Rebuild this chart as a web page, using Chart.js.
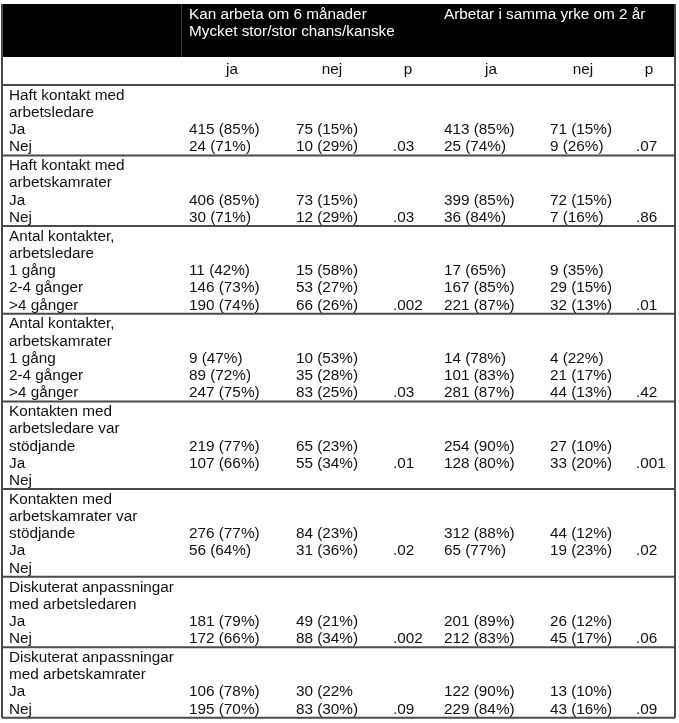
<!DOCTYPE html>
<html>
<head>
<meta charset="utf-8">
<script src="https://cdn.jsdelivr.net/npm/chart.js@4.4.1/dist/chart.umd.min.js"></script>
<style>
  html, body { margin: 0; padding: 0; background: #fff; }
  #wrap { width: 679px; height: 723px; }
</style>
</head>
<body>
<div id="wrap"><canvas id="tbl" width="679" height="723"></canvas></div>
<script>
// table content
const headerGroups = [
  ['Kan arbeta om 6 månader', 'Mycket stor/stor chans/kanske'],
  ['Arbetar i samma yrke om 2 år']
];
const subHeaders = ['ja', 'nej', 'p', 'ja', 'nej', 'p'];

const rowLabels = [
  ['Haft kontakt med', 'arbetsledare', 'Ja', 'Nej'],
  ['Haft kontakt med', 'arbetskamrater', 'Ja', 'Nej'],
  ['Antal kontakter,', 'arbetsledare', '1 gång', '2-4 gånger', '>4 gånger'],
  ['Antal kontakter,', 'arbetskamrater', '1 gång', '2-4 gånger', '>4 gånger'],
  ['Kontakten med', 'arbetsledare var', 'stödjande', 'Ja', 'Nej'],
  ['Kontakten med', 'arbetskamrater var', 'stödjande', 'Ja', 'Nej'],
  ['Diskuterat anpassningar', 'med arbetsledaren', 'Ja', 'Nej'],
  ['Diskuterat anpassningar', 'med arbetskamrater', 'Ja', 'Nej']
];

const kanJa = [
  ['415 (85%)', '24 (71%)'],
  ['406 (85%)', '30 (71%)'],
  ['11 (42%)', '146 (73%)', '190 (74%)'],
  ['9 (47%)', '89 (72%)', '247 (75%)'],
  ['219 (77%)', '107 (66%)'],
  ['276 (77%)', '56 (64%)'],
  ['181 (79%)', '172 (66%)'],
  ['106 (78%)', '195 (70%)']
];
const kanNej = [
  ['75 (15%)', '10 (29%)'],
  ['73 (15%)', '12 (29%)'],
  ['15 (58%)', '53 (27%)', '66 (26%)'],
  ['10 (53%)', '35 (28%)', '83 (25%)'],
  ['65 (23%)', '55 (34%)'],
  ['84 (23%)', '31 (36%)'],
  ['49 (21%)', '88 (34%)'],
  ['30 (22%', '83 (30%)']
];
const kanP = ['.03', '.03', '.002', '.03', '.01', '.02', '.002', '.09'];

const yrkeJa = [
  ['413 (85%)', '25 (74%)'],
  ['399 (85%)', '36 (84%)'],
  ['17 (65%)', '167 (85%)', '221 (87%)'],
  ['14 (78%)', '101 (83%)', '281 (87%)'],
  ['254 (90%)', '128 (80%)'],
  ['312 (88%)', '65 (77%)'],
  ['201 (89%)', '212 (83%)'],
  ['122 (90%)', '229 (84%)']
];
const yrkeNej = [
  ['71 (15%)', '9 (26%)'],
  ['72 (15%)', '7 (16%)'],
  ['9 (35%)', '29 (15%)', '32 (13%)'],
  ['4 (22%)', '21 (17%)', '44 (13%)'],
  ['27 (10%)', '33 (20%)'],
  ['44 (12%)', '19 (23%)'],
  ['26 (12%)', '45 (17%)'],
  ['13 (10%)', '43 (16%)']
];
const yrkeP = ['.07', '.86', '.01', '.42', '.001', '.02', '.06', '.09'];

// layout (scale units == canvas pixels)
const colX = [9, 189, 296, 393, 444, 550, 636];
const subHeaderX = [232, 332, 408, 491, 583, 649];
const headerX = [189, 444];
const tableLeft = 2, tableRight = 675, tableTop = 4, headerBottom = 57;
const bodyTop = 85, linePitch = 17.2, blockPad = 1.7, firstLine = 10.5;
const valueStartLine = 2;
const font = '15.3px "Liberation Sans", Arial, sans-serif';

function blockTops() {
  const tops = [bodyTop];
  rowLabels.forEach(lines => {
    tops.push(tops[tops.length - 1] + lines.length * linePitch + blockPad);
  });
  return tops;
}

const tablePlugin = {
  id: 'tableDraw',
  afterDraw(chart) {
    const ctx = chart.ctx;
    const xs = chart.scales.x;
    const ys = chart.scales.y;
    const px = v => xs.getPixelForValue(v);
    const py = v => ys.getPixelForValue(v);
    const tops = blockTops();

    ctx.save();
    // header block
    ctx.fillStyle = '#000';
    ctx.fillRect(px(tableLeft), py(tableTop), px(tableRight) - px(tableLeft), py(headerBottom) - py(tableTop));
    ctx.strokeStyle = '#3a3a3a';
    ctx.lineWidth = 1;
    ctx.beginPath();
    ctx.moveTo(px(181) + 0.5, py(tableTop));
    ctx.lineTo(px(181) + 0.5, py(headerBottom));
    ctx.stroke();

    ctx.font = font;
    ctx.textBaseline = 'middle';
    ctx.textAlign = 'left';
    ctx.fillStyle = '#fff';
    headerGroups.forEach((lines, g) => {
      lines.forEach((t, i) => ctx.fillText(t, px(headerX[g]), py(14.5 + i * 17.5)));
    });

    // sub header
    ctx.fillStyle = '#111';
    ctx.textAlign = 'center';
    subHeaders.forEach((t, i) => ctx.fillText(t, px(subHeaderX[i]), py(70)));

    // horizontal rules
    ctx.strokeStyle = '#4a4a4a';
    ctx.lineWidth = 2;
    tops.forEach(t => {
      ctx.beginPath();
      ctx.moveTo(px(tableLeft), py(t));
      ctx.lineTo(px(tableRight), py(t));
      ctx.stroke();
    });
    // outer border
    ctx.beginPath();
    ctx.moveTo(px(tableLeft), py(tableTop));
    ctx.lineTo(px(tableLeft), py(tops[tops.length - 1]));
    ctx.moveTo(px(tableRight), py(tableTop));
    ctx.lineTo(px(tableRight), py(tops[tops.length - 1]));
    ctx.stroke();

    // body text
    ctx.textAlign = 'left';
    ctx.fillStyle = '#111';
    const cols = [kanJa, kanNej, null, yrkeJa, yrkeNej, null];
    rowLabels.forEach((lines, b) => {
      const lineY = i => py(tops[b] + firstLine + i * linePitch);
      lines.forEach((t, i) => ctx.fillText(t, px(colX[0]), lineY(i)));
      cols.forEach((col, c) => {
        if (!col) return;
        col[b].forEach((t, i) => ctx.fillText(t, px(colX[c + 1]), lineY(valueStartLine + i)));
      });
      const lastLine = valueStartLine + kanJa[b].length - 1;
      ctx.fillText(kanP[b], px(colX[3]), lineY(lastLine));
      ctx.fillText(yrkeP[b], px(colX[6]), lineY(lastLine));
    });
    ctx.restore();
  }
};

new Chart(document.getElementById('tbl'), {
  type: 'scatter',
  data: { datasets: [{ data: [], pointRadius: 0 }] },
  options: {
    responsive: false,
    animation: false,
    events: [],
    layout: { padding: 0 },
    plugins: { legend: { display: false }, tooltip: { enabled: false } },
    scales: {
      x: { type: 'linear', min: 0, max: 679, display: false },
      y: { type: 'linear', min: 0, max: 723, reverse: true, display: false }
    }
  },
  plugins: [tablePlugin]
});
</script>
</body>
</html>
